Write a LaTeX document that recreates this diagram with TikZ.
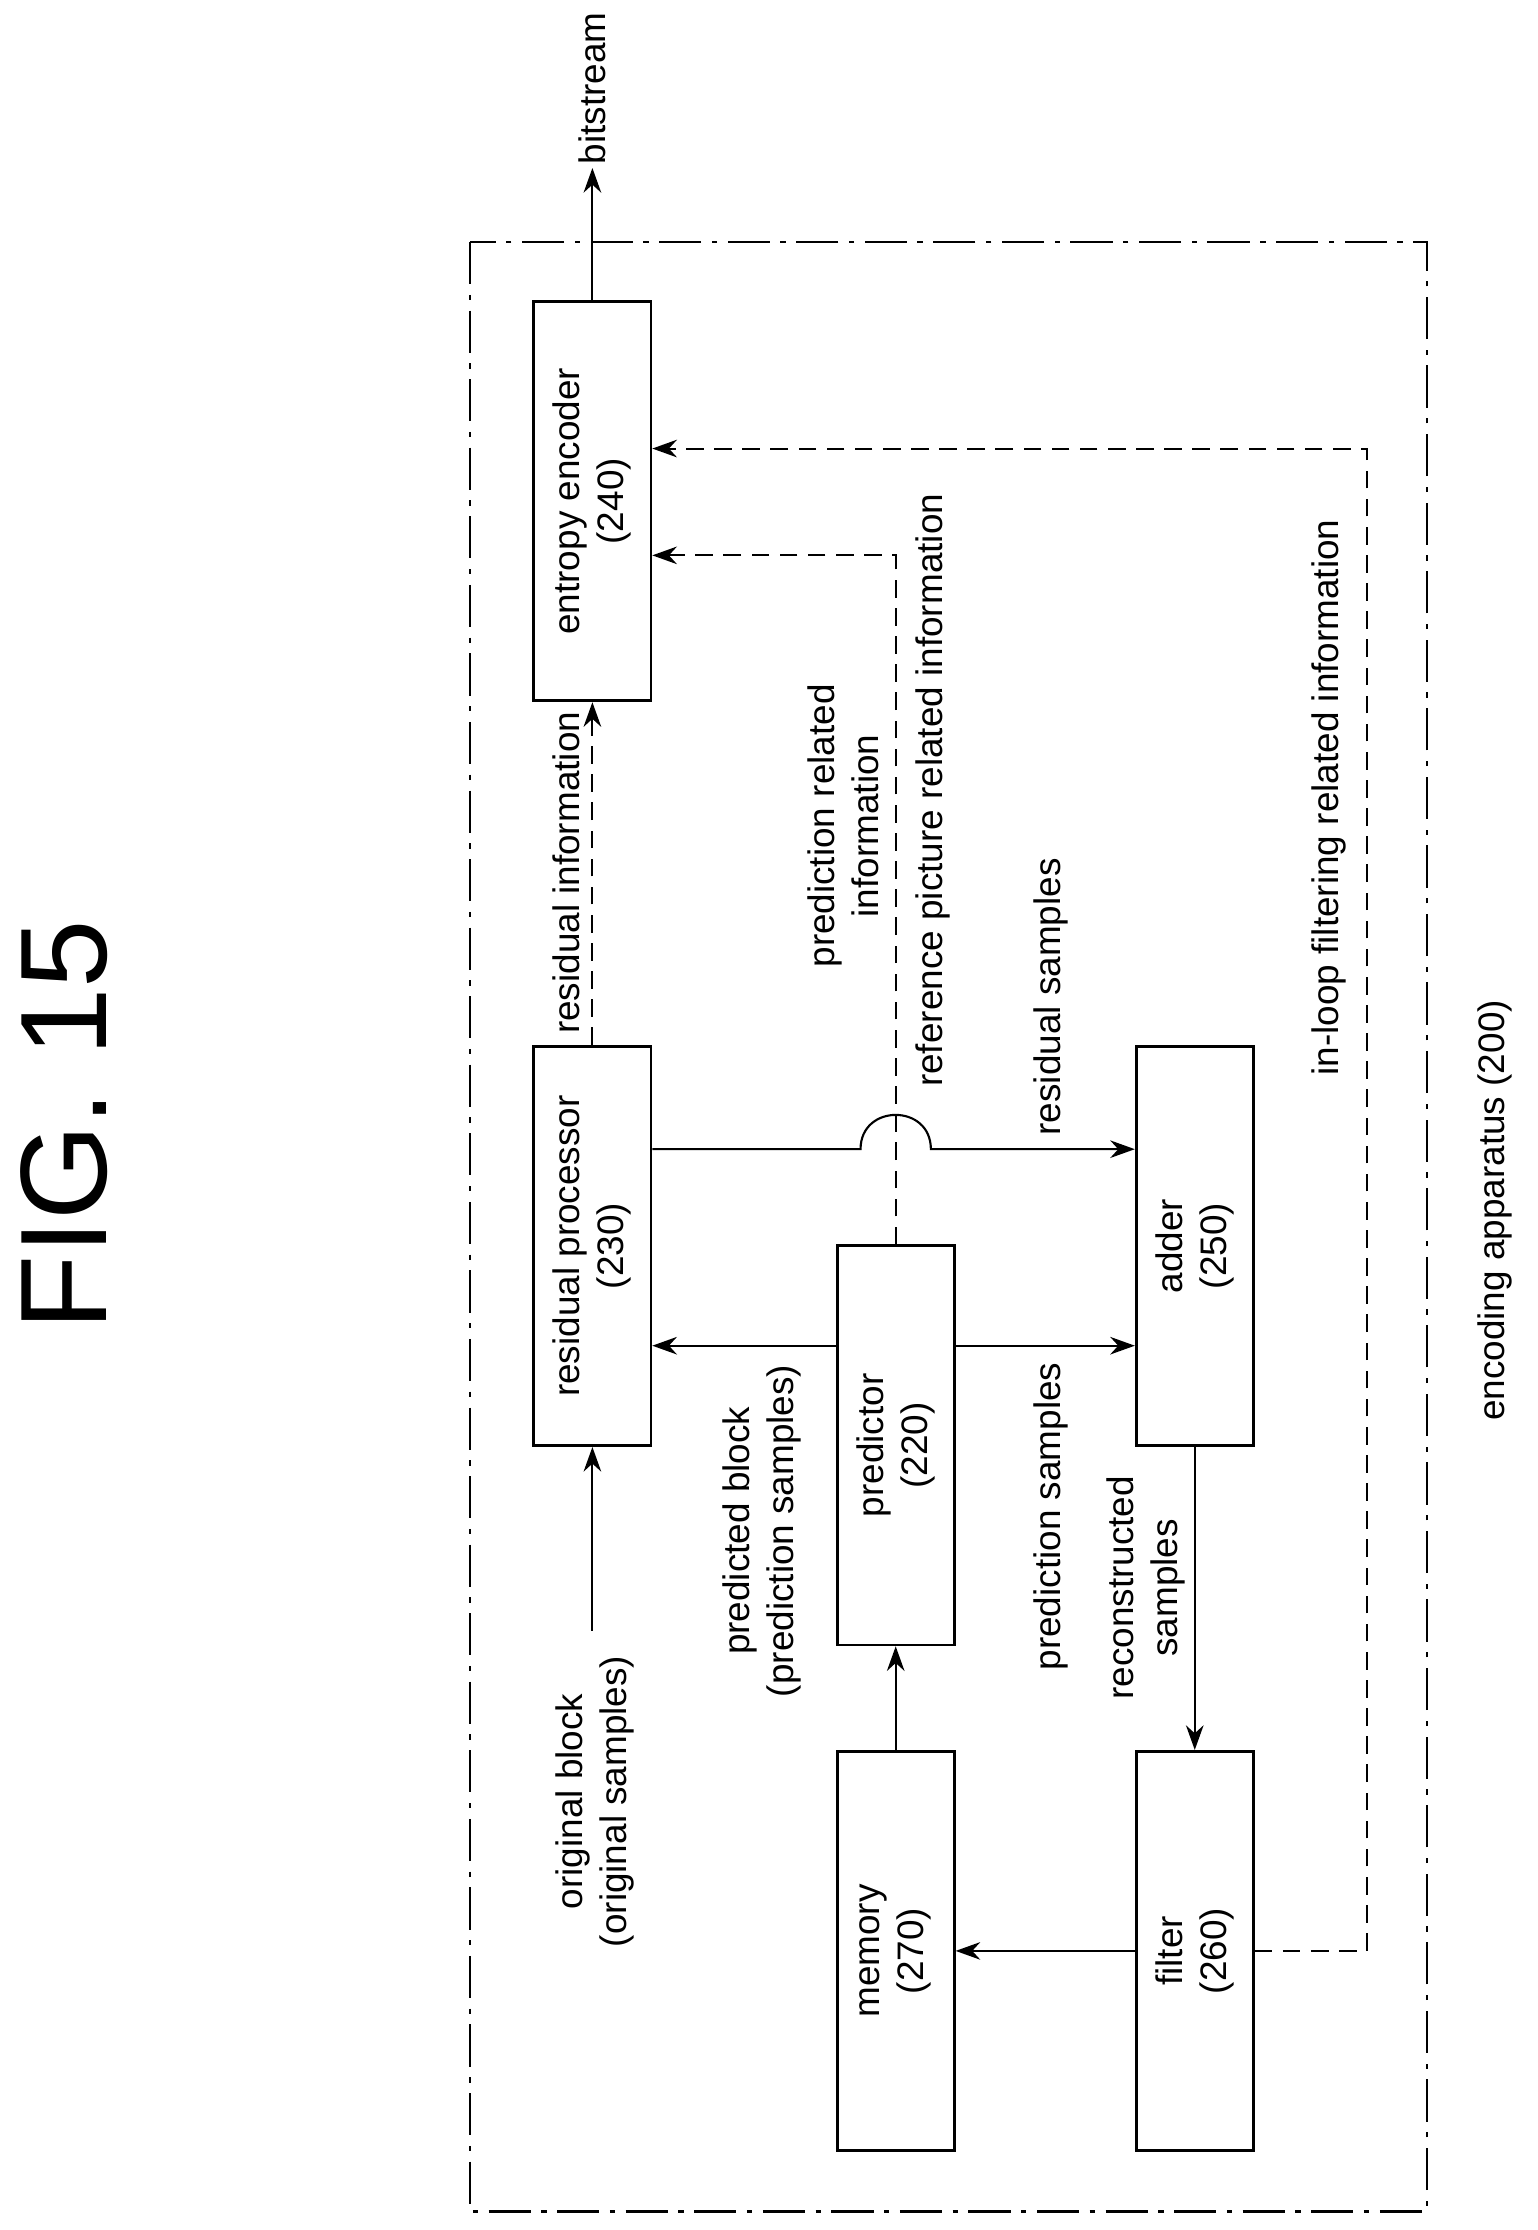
\documentclass[tikz,border=0pt]{standalone}
\usepackage{fontspec}
\setmainfont{Liberation Sans}
\usetikzlibrary{arrows.meta}
\tikzset{
	blk/.style={draw, thick, rotate=90, minimum width=3.99cm, minimum height=1.17cm, align=center, inner sep=2pt, font=\fontsize{10.5}{12.5}\selectfont},
	lbl/.style={rotate=90, align=center, font=\fontsize{10.5}{12.5}\selectfont},
	flow/.style={semithick, -{Stealth[length=7pt,width=5pt]}},
	info/.style={flow, dash pattern=on 5pt off 3pt}
}
\begin{document}
\begin{tikzpicture}[x=0.01424cm, y=-0.01424cm]
	\useasboundingbox (0,0) rectangle (1080,1566);
	%titel
	\node[rotate=90, font=\fontsize{35}{40}\selectfont] (title) at (45,790) {FIG. 15};
	%rahmen
	\draw [semithick, dash pattern=on 12pt off 3pt on 1.5pt off 3pt] (330,170) rectangle (1002,1553);
	\node[lbl] (app) at (1050,850) {encoding apparatus (200)};
	
	%bloecke
	\node[blk] (ent) at (416,352) {entropy encoder\\(240)};
	\node[blk] (res) at (416,875) {residual processor\\(230)};
	\node[blk] (pred) at (629,1015) {predictor\\(220)};
	\node[blk] (add) at (839,875) {adder\\(250)};
	\node[blk] (mem) at (629,1370) {memory\\(270)};
	\node[blk] (fil) at (839,1370) {filter\\(260)};
	
	%hilfspunkte
	\coordinate (bits) at (416,118);
	\coordinate (orig) at (416,1145);
	\coordinate (ya) at (0,945);
	\coordinate (yb) at (0,807);
	\coordinate (yc) at (0,390);
	\coordinate (yd) at (0,315);
	\coordinate (jmp) at (629,807);
	\coordinate (loop) at (960,1370);
	
	%verbindungen
	\draw [flow] (ent.east) -- (bits);
	\draw [info] (res.east) -- (ent.west);
	\draw [flow] (orig) -- (res.west);
	\draw [flow] (pred.north |- ya) -- (res.south |- ya);
	\draw [flow] (pred.south |- ya) -- (add.north |- ya);
	\draw [flow] (res.south |- yb) -- ([xshift=-10]jmp) .. controls ([xshift=-10,yshift=13]jmp) and ([xshift=10,yshift=13]jmp) .. ([xshift=10]jmp) -- (add.north |- yb);
	\draw [info] (pred.east) |- (ent.south |- yc);
	\draw [flow] (add.west) -- (fil.east);
	\draw [flow] (mem.east) -- (pred.west);
	\draw [flow] (fil.north) -- (mem.south);
	\draw [info] (fil.south) -- (loop) |- (ent.south |- yd);
	
	%beschriftungen
	\node[lbl] (lbits) at (416,62) {bitstream};
	\node[lbl] (lresi) at (398,613) {residual information};
	\node[lbl] (lorig) at (418,1265) {original block\\(original samples)};
	\node[lbl] (lpblk) at (535,1075) {predicted block\\(prediction samples)};
	\node[lbl] (lpsam) at (738,1065) {prediction samples};
	\node[lbl] (lrsam) at (738,700) {residual samples};
	\node[lbl] (lpinf) at (592,580) {prediction related\\information};
	\node[lbl] (lref) at (655,555) {reference picture related information};
	\node[lbl] (lrec) at (805,1115) {reconstructed\\samples};
	\node[lbl] (lflt) at (933,560) {in-loop filtering related information};
\end{tikzpicture}
\end{document}
